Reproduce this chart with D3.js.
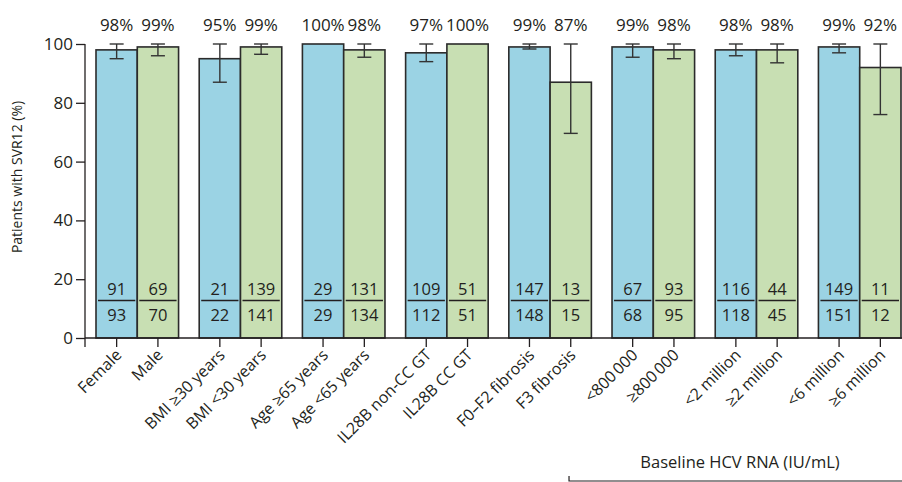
<!DOCTYPE html>
<html>
<head>
<meta charset="utf-8">
<script src="https://cdn.jsdelivr.net/npm/d3@7"></script>
<style>
  html, body { margin: 0; padding: 0; background: #fff; }
  svg { display: block; }
  text { font-family: "Open Sans", "Noto Sans", sans-serif; fill: #231f20; }
</style>
</head>
<body>
<svg id="chart" width="902" height="482"></svg>
<script>
// Subgroups, shown as pairs
const categories = [
  "Female", "Male",
  "BMI \u226530 years", "BMI <30 years",
  "Age \u226565 years", "Age <65 years",
  "IL28B non-CC GT", "IL28B CC GT",
  "F0\u2013F2 fibrosis", "F3 fibrosis",
  "<800\u2009000", "\u2265800\u2009000",
  "<2 million", "\u22652 million",
  "<6 million", "\u22656 million"
];
// SVR12 rate (%) per subgroup
const svrPercent = [98, 99, 95, 99, 100, 98, 97, 100, 99, 87, 99, 98, 98, 98, 99, 92];
// Responders / patients in subgroup
const responders = [91, 69, 21, 139, 29, 131, 109, 51, 147, 13, 67, 93, 116, 44, 149, 11];
const totals     = [93, 70, 22, 141, 29, 134, 112, 51, 148, 15, 68, 95, 118, 45, 151, 12];
// 95% CI bounds (null where no interval is shown)
const ciLow  = [95, 96, 87, 96.5, null, 95.5, 94, null, 98.3, 69.6, 95.5, 95, 96, 93.6, 97, 76];
const ciHigh = [100, 100, 100, 100, null, 100, 100, null, 100, 100, 100, 100, 100, 100, 100, 100];
const yTicks = [0, 20, 40, 60, 80, 100];
const yLabel = "Patients with SVR12 (%)";
const bracketLabel = "Baseline HCV RNA (IU/mL)";

const colors = ["#9bd3e4", "#c8dfb3"];
const ink = "#231f20";

const svg = d3.select("#chart");

const nGroups = categories.length / 2;
const groups = d3.range(nGroups);

const y = d3.scaleLinear().domain([0, 100]).range([338, 44]);
const xGroup = d3.scaleBand().domain(groups).range([96, 901]).paddingInner(0.2).paddingOuter(0);
const xInner = d3.scaleBand().domain([0, 1]).range([0, xGroup.bandwidth()]);

const data = categories.map((c, i) => ({
  label: c,
  value: svrPercent[i],
  n: responders[i],
  total: totals[i],
  lo: ciLow[i],
  hi: ciHigh[i],
  group: Math.floor(i / 2),
  side: i % 2
}));
const xLeft = d => xGroup(d.group) + xInner(d.side);
const xMid = d => xLeft(d) + xInner.bandwidth() / 2;

// Y axis
const yAxis = d3.axisLeft(y).tickValues(yTicks).tickSize(9).tickPadding(3);
const gy = svg.append("g").attr("transform", "translate(85,0)").call(yAxis);
gy.select(".domain").remove();
gy.selectAll(".tick line").attr("stroke", ink).attr("stroke-width", 1.3);
gy.selectAll(".tick text").style("font-size", "17px").attr("fill", ink);
svg.append("line")
  .attr("x1", 85).attr("x2", 85).attr("y1", y(100)).attr("y2", 347)
  .attr("stroke", ink).attr("stroke-width", 1.3);

svg.append("text")
  .attr("transform", `translate(22,${(y(100) + y(0)) / 2 - 14}) rotate(-90)`)
  .attr("text-anchor", "middle")
  .style("font-size", "14px")
  .text(yLabel);

// Bars
svg.append("g").selectAll("rect").data(data).join("rect")
  .attr("x", xLeft)
  .attr("y", d => y(d.value))
  .attr("width", xInner.bandwidth())
  .attr("height", d => y(0) - y(d.value))
  .attr("fill", d => colors[d.side])
  .attr("stroke", "#2b2b2b")
  .attr("stroke-width", 1.6);

// X axis baseline and ticks
svg.append("line")
  .attr("x1", 85).attr("x2", 902).attr("y1", y(0)).attr("y2", y(0))
  .attr("stroke", ink).attr("stroke-width", 1.3);
svg.append("g").selectAll("line").data(data).join("line")
  .attr("x1", xMid).attr("x2", xMid)
  .attr("y1", y(0)).attr("y2", 347)
  .attr("stroke", ink).attr("stroke-width", 1.3);

// Error bars
const eb = svg.append("g").selectAll("g").data(data.filter(d => d.lo != null)).join("g")
  .attr("stroke", "#333").attr("stroke-width", 1.4);
eb.append("line").attr("x1", xMid).attr("x2", xMid).attr("y1", d => y(d.hi)).attr("y2", d => y(d.lo));
eb.append("line").attr("x1", d => xMid(d) - 7).attr("x2", d => xMid(d) + 7).attr("y1", d => y(d.hi)).attr("y2", d => y(d.hi));
eb.append("line").attr("x1", d => xMid(d) - 7).attr("x2", d => xMid(d) + 7).attr("y1", d => y(d.lo)).attr("y2", d => y(d.lo));

// Percentage labels
svg.append("g").selectAll("text").data(data).join("text")
  .attr("x", xMid)
  .attr("y", 31)
  .attr("text-anchor", "middle")
  .style("font-size", "17px")
  .text(d => d.value + "%");

// Responders / total fractions
const fr = svg.append("g").selectAll("g").data(data).join("g");
fr.append("text")
  .attr("x", xMid).attr("y", 295)
  .attr("text-anchor", "middle").style("font-size", "16.5px")
  .text(d => d.n);
fr.append("line")
  .attr("x1", d => xLeft(d) + 2).attr("x2", d => xLeft(d) + xInner.bandwidth() - 2)
  .attr("y1", 300.5).attr("y2", 300.5)
  .attr("stroke", ink).attr("stroke-width", 1.3);
fr.append("text")
  .attr("x", xMid).attr("y", 321)
  .attr("text-anchor", "middle").style("font-size", "16.5px")
  .text(d => d.total);

// Category labels, rotated
svg.append("g").selectAll("text").data(data).join("text")
  .attr("transform", d => `translate(${xMid(d) + 6},356) rotate(-45)`)
  .attr("text-anchor", "end")
  .style("font-size", "16px")
  .text(d => d.label);

// Bracket for baseline viral load subgroups
const bx = xGroup(5) - 43;
svg.append("path")
  .attr("d", `M${bx},476V481H902`)
  .attr("fill", "none").attr("stroke", ink).attr("stroke-width", 1.2);
svg.append("text")
  .attr("x", 740).attr("y", 468)
  .attr("text-anchor", "middle")
  .style("font-size", "16.5px")
  .text(bracketLabel);
</script>
</body>
</html>
